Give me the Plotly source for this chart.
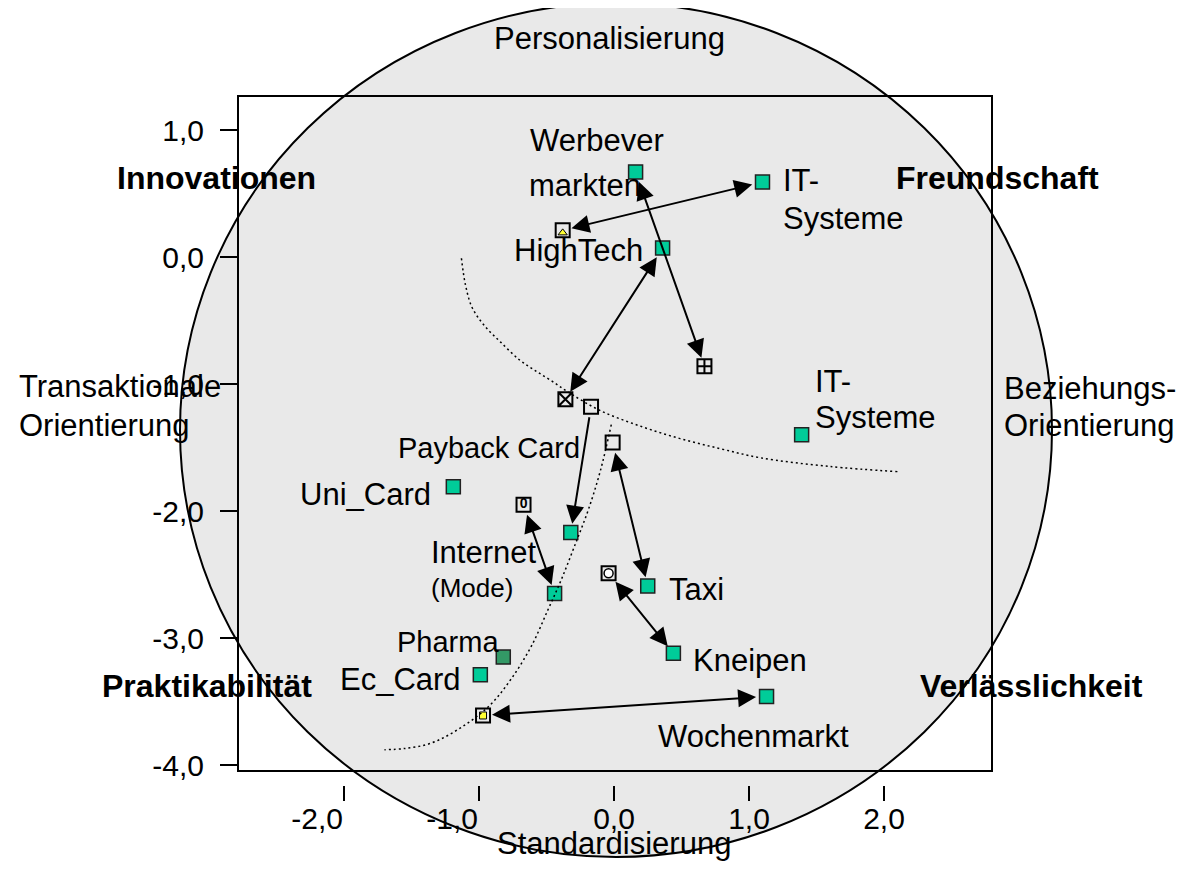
import plotly.graph_objects as go

# --- data -------------------------------------------------------------
# filled squares: industries / cards
branch_names = ["Werbevermarkter", "IT-Systeme 1", "HighTech", "IT-Systeme 2",
                "Uni_Card", "Payback Card", "Taxi", "Internet", "Pharma",
                "Ec_Card", "Kneipen", "Wochenmarkt"]
branch_x = [0.16, 1.10, 0.36, 1.39, -1.19, -0.32, 0.25, -0.44, -0.82, -0.99, 0.44, 1.13]
branch_y = [0.67, 0.59, 0.07, -1.40, -1.81, -2.17, -2.59, -2.65, -3.15, -3.29, -3.12, -3.46]

# open squares: reference positions
ref_names = ["Dreieck", "Gitter", "Kreuz", "Leer 1", "Leer 2", "Null", "Kreis", "Quadrat"]
ref_x = [-0.38, 0.67, -0.36, -0.17, -0.01, -0.67, -0.04, -0.97]
ref_y = [0.21, -0.86, -1.12, -1.18, -1.46, -1.95, -2.49, -3.61]

# arrows: (from, to, double headed)
arrows = [
    ("IT-Systeme 1", "Dreieck", True),
    ("Werbevermarkter", "Gitter", True),
    ("HighTech", "Kreuz", True),
    ("Leer 1", "Payback Card", False),
    ("Leer 2", "Taxi", True),
    ("Null", "Internet", True),
    ("Kreis", "Kneipen", True),
    ("Wochenmarkt", "Quadrat", True),
]

# dotted separation curves
curve1_x = [-1.13, -1.10, -1.05, -0.96, -0.84, -0.70, -0.59, -0.47, -0.33, -0.10,
            0.19, 0.49, 0.79, 1.08, 1.60, 2.10]
curve1_y = [-0.01, -0.22, -0.40, -0.54, -0.67, -0.81, -0.89, -0.97, -1.07, -1.21,
            -1.33, -1.43, -1.51, -1.58, -1.65, -1.69]
curve2_x = [-0.02, -0.10, -0.19, -0.29, -0.39, -0.49, -0.61, -0.76, -0.92, -1.14,
            -1.36, -1.55, -1.70]
curve2_y = [-1.32, -1.68, -1.99, -2.27, -2.54, -2.78, -3.06, -3.32, -3.53, -3.71,
            -3.83, -3.87, -3.88]

x_ticks = [-2, -1, 0, 1, 2]
x_ticktext = ["-2,0", "-1,0", "0,0", "1,0", "2,0"]
y_ticks = [1, 0, -1, -2, -3, -4]
y_ticktext = ["1,0", "0,0", "-1,0", "-2,0", "-3,0", "-4,0"]

# --- layout helpers ---------------------------------------------------
S = 8                              # page body margin
W, H = 1192 - 2 * S, 871 - 2 * S   # figure size
L, R, T, B = 238, 992, 96, 785     # plot area, screen pixels
FONT = "Liberation Sans, Arial, sans-serif"


def paper_x(p):
    return (p - L) / (R - L)


def paper_y(p):
    return (B - p) / (B - T)


pos = {n: (x, y) for n, x, y in zip(branch_names, branch_x, branch_y)}
pos.update({n: (x, y) for n, x, y in zip(ref_names, ref_x, ref_y)})

fig = go.Figure()

# background circle and frame
fig.add_shape(type="circle", xref="paper", yref="paper", layer="below",
              x0=paper_x(180), x1=paper_x(1052), y0=paper_y(857), y1=paper_y(3),
              fillcolor="#e9e9e9", line=dict(color="black", width=2))
fig.add_shape(type="rect", xref="paper", yref="paper", layer="above",
              x0=0, x1=1, y0=paper_y(771), y1=1,
              line=dict(color="black", width=2))

fig.add_trace(go.Scatter(x=curve1_x, y=curve1_y, mode="lines", hoverinfo="skip",
                         line=dict(color="black", width=1.5, dash="2px,3px",
                                   shape="spline")))
# second curve sits on the overlay x axis (same range) that carries the negative labels
fig.add_trace(go.Scatter(x=curve2_x, y=curve2_y, mode="lines", hoverinfo="skip",
                         xaxis="x2",
                         line=dict(color="black", width=1.5, dash="2px,3px",
                                   shape="spline")))

# arrows
for a, b, both in arrows:
    ax, ay = pos[a]
    hx, hy = pos[b]
    fig.add_annotation(x=hx, y=hy, ax=ax, ay=ay, xref="x", yref="y",
                       axref="x", ayref="y", text="", showarrow=True,
                       arrowhead=2, arrowsize=1.8, arrowwidth=2, arrowcolor="black",
                       arrowside="end+start" if both else "end",
                       startarrowhead=2, startarrowsize=1.8,
                       standoff=9, startstandoff=9)

# open reference squares
sym = {"Gitter": "square-cross-open", "Kreuz": "square-x-open"}
fig.add_trace(go.Scatter(
    x=ref_x, y=ref_y, mode="markers", hoverinfo="text", text=ref_names,
    marker=dict(symbol=[sym.get(n, "square") for n in ref_names], size=14,
                color=["black" if n in sym else "rgba(0,0,0,0)" for n in ref_names],
                line=dict(color="black", width=2))))

# inner glyphs
i = ref_names.index("Dreieck")
fig.add_trace(go.Scatter(x=[ref_x[i]], y=[ref_y[i] - 0.02], mode="markers", hoverinfo="skip",
                         marker=dict(symbol="triangle-up", size=8, color="#ffff33",
                                     line=dict(color="black", width=1))))
i = ref_names.index("Kreis")
fig.add_trace(go.Scatter(x=[ref_x[i]], y=[ref_y[i]], mode="markers", hoverinfo="skip",
                         marker=dict(symbol="circle", size=9, color="white",
                                     line=dict(color="black", width=1.5))))
i = ref_names.index("Quadrat")
fig.add_trace(go.Scatter(x=[ref_x[i]], y=[ref_y[i]], mode="markers", hoverinfo="skip",
                         marker=dict(symbol="square", size=7, color="#ffff33",
                                     line=dict(color="black", width=1))))
i = ref_names.index("Null")
fig.add_trace(go.Scatter(x=[ref_x[i]], y=[ref_y[i]], mode="text", text=["<b>0</b>"],
                         hoverinfo="skip", textposition="middle center",
                         textfont=dict(family=FONT, size=14, color="black")))

# filled squares
fig.add_trace(go.Scatter(
    x=branch_x, y=branch_y, mode="markers", hoverinfo="text", text=branch_names,
    marker=dict(symbol="square", size=14,
                color=["#339966" if n == "Pharma" else "#00cc99" for n in branch_names],
                line=dict(color="#222222", width=1.5))))

# point labels: (point, text, px offset x, px offset y, anchor, font size)
labels = [
    ("Werbevermarkter", "Werbever", -108, -31, "left", 31),
    ("Werbevermarkter", "markten", -109, 14, "left", 31),
    ("IT-Systeme 1", "IT-", 19, -2, "left", 31),
    ("IT-Systeme 1", "Systeme", 19, 36, "left", 31),
    ("Dreieck", "HighTech", -51, 20, "left", 31),
    ("IT-Systeme 2", "IT-", 11, -53, "left", 31),
    ("IT-Systeme 2", "Systeme", 11, -17, "left", 31),
    ("Leer 1", "Payback Card", -195, 41, "left", 29),
    ("Uni_Card", "Uni_Card", -20, 8, "right", 31),
    ("Internet", "Internet", -126, -41, "left", 31),
    ("Internet", "(Mode)", -126, -6, "left", 26),
    ("Pharma", "Pharma", -108, -15, "left", 29),
    ("Ec_Card", "Ec_Card", -17, 5, "right", 31),
    ("Taxi", "Taxi", 19, 4, "left", 31),
    ("Kneipen", "Kneipen", 18, 7, "left", 31),
    ("Wochenmarkt", "Wochenmarkt", -111, 40, "left", 31),
]
for n, txt, dx, dy, anchor, size in labels:
    x, y = pos[n]
    fig.add_annotation(x=x, y=y, xref="x", yref="y", text=txt, showarrow=False,
                       xanchor=anchor, yanchor="middle", xshift=dx, yshift=-dy,
                       font=dict(family=FONT, size=size, color="black"))

# side texts
side = [
    ("Personalisierung", 609, 38, "center", False),
    ("Standardisierung", 614, 843, "center", False),
    ("Transaktionale", 17, 387, "left", False),
    ("Orientierung", 17, 425, "left", False),
    ("Beziehungs-", 1002, 388, "left", False),
    ("Orientierung", 1002, 425, "left", False),
    ("Innovationen", 216, 178, "center", True),
    ("Freundschaft", 997, 178, "center", True),
    ("Praktikabilität", 207, 686, "center", True),
    ("Verlässlichkeit", 1031, 686, "center", True),
]
for txt, sx, sy, anchor, bold in side:
    fig.add_annotation(x=paper_x(sx), y=paper_y(sy), xref="paper", yref="paper",
                       text=f"<b>{txt}</b>" if bold else txt, showarrow=False,
                       xanchor=anchor, yanchor="middle",
                       font=dict(family=FONT, size=32 if bold else 31, color="black"))

# negative x labels hang left of their tick, the others are centred
neg = [v < 0 for v in x_ticks]
xaxis_common = dict(range=[-2.785, 2.8], showgrid=False, zeroline=False, showline=False,
                    ticks="outside", ticklen=15, tickwidth=2, tickfont=dict(size=30),
                    fixedrange=True)

fig.update_layout(
    width=W, height=H,
    margin=dict(l=L - S, r=W - (R - S), t=T - S, b=H - (B - S)),
    paper_bgcolor="white", plot_bgcolor="rgba(0,0,0,0)",
    showlegend=False,
    font=dict(family=FONT, size=30, color="black"),
    xaxis=dict(xaxis_common, tickvals=x_ticks, tickcolor="black", ticklabelstandoff=-8,
               ticktext=["" if n else t for n, t in zip(neg, x_ticktext)]),
    xaxis2=dict(xaxis_common, overlaying="x", anchor="y", side="bottom",
                tickvals=[v for v, n in zip(x_ticks, neg) if n],
                ticktext=[t for t, n in zip(x_ticktext, neg) if n],
                tickcolor="rgba(0,0,0,0)", ticklabelposition="outside left",
                ticklabelstandoff=7),
    yaxis=dict(range=[-4.1575, 1.2677], showgrid=False, zeroline=False, showline=False,
               tickvals=y_ticks, ticktext=y_ticktext, ticks="outside", ticklen=17,
               tickwidth=2, tickcolor="black", tickfont=dict(size=30),
               ticklabelstandoff=10, fixedrange=True),
)

fig.write_html("out.html")
